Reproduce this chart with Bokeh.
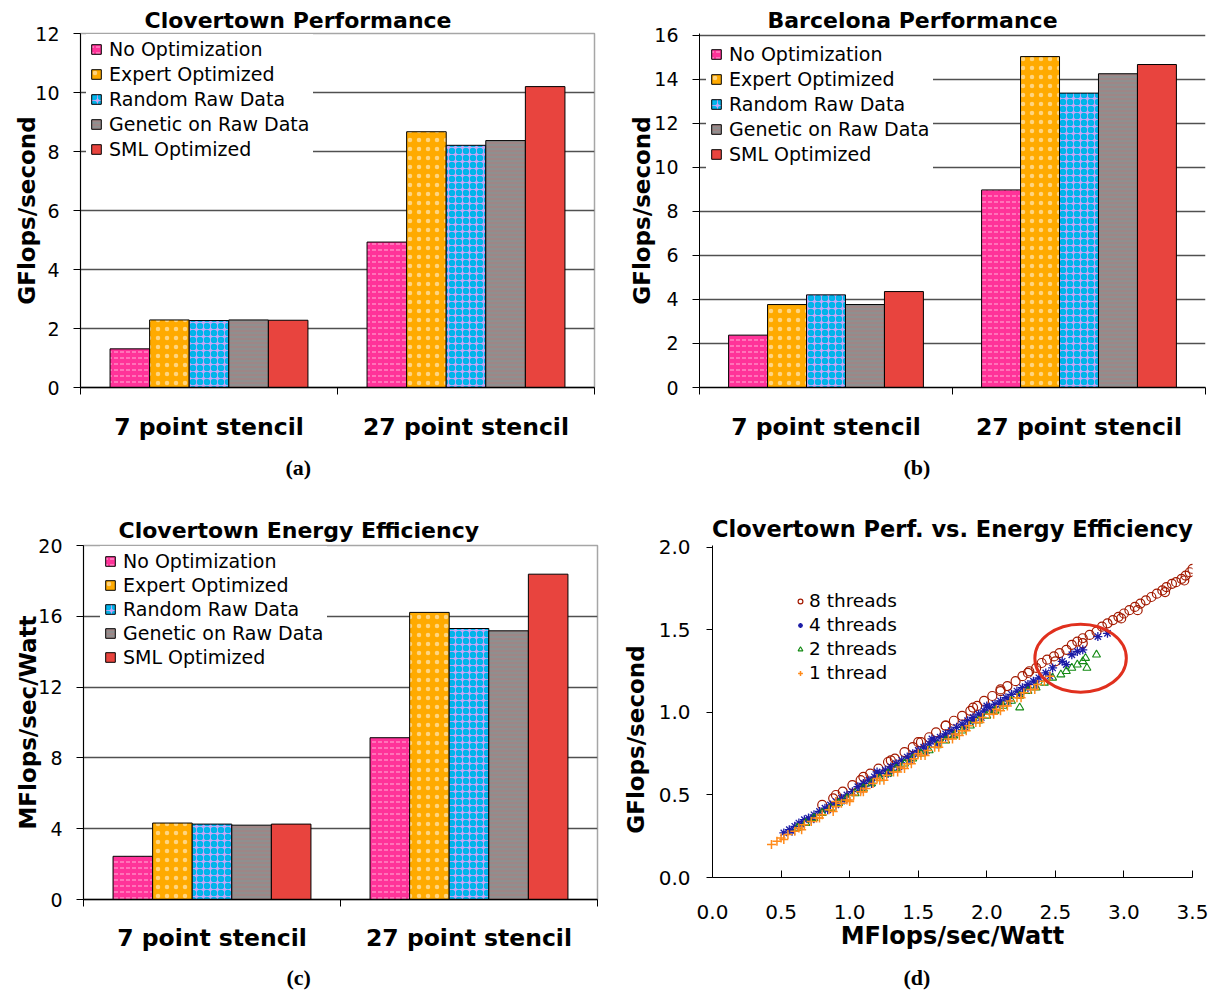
from bokeh.plotting import figure
from bokeh.models import (FixedTicker, Legend, LegendItem, Title,
                          Range1d, ColumnDataSource, NumeralTickFormatter)
from bokeh.layouts import column, row
from bokeh.embed import file_html
from bokeh.resources import INLINE
from bokeh.transform import dodge

# ---------------- data ----------------
categories = ["7 point stencil", "27 point stencil"]
series = ["No Optimization", "Expert Optimized", "Random Raw Data",
          "Genetic on Raw Data", "SML Optimized"]

# (a) Clovertown performance, GFlops/second
clover_perf_7pt = [1.31, 2.29, 2.27, 2.29, 2.28]
clover_perf_27pt = [4.93, 8.67, 8.21, 8.37, 10.20]
# (b) Barcelona performance, GFlops/second
barca_perf_7pt = [2.38, 3.77, 4.21, 3.77, 4.36]
barca_perf_27pt = [8.98, 15.04, 13.38, 14.26, 14.68]
# (c) Clovertown energy efficiency, MFlops/sec/Watt
clover_eff_7pt = [2.44, 4.32, 4.26, 4.20, 4.26]
clover_eff_27pt = [9.14, 16.22, 15.31, 15.18, 18.38]

# (d) Clovertown perf. vs energy efficiency
thread_labels = ["8 threads", "4 threads", "2 threads", "1 thread"]
eight_x = [0.80, 0.88, 0.95, 1.02, 1.08, 1.15, 1.21, 1.28, 1.33, 1.40, 1.46, 1.52, 1.58, 1.63,
           1.70, 1.76, 1.82, 1.88, 1.93, 1.98, 2.04, 2.10, 2.15, 2.21, 2.26, 2.31, 2.36, 2.40,
           2.44, 2.49, 2.53, 2.58, 2.62, 2.66, 2.70, 2.75, 2.80, 2.84, 2.88, 2.92, 2.96, 3.00,
           3.04, 3.08, 3.12, 3.16, 3.20, 3.24, 3.28, 3.31, 3.35, 3.38, 3.42, 3.45, 3.48, 3.50,
           2.98, 3.10, 3.30, 3.44, 2.70, 2.50,
           0.90, 1.10, 1.30, 1.50, 1.70, 1.90, 2.10, 2.30]
eight_y = [0.44, 0.48, 0.52, 0.56, 0.59, 0.63, 0.66, 0.70, 0.72, 0.76, 0.79, 0.82, 0.85, 0.88,
           0.92, 0.95, 0.98, 1.01, 1.04, 1.07, 1.10, 1.13, 1.16, 1.19, 1.22, 1.25, 1.27, 1.30,
           1.32, 1.34, 1.36, 1.38, 1.41, 1.43, 1.45, 1.47, 1.49, 1.52, 1.54, 1.56, 1.58, 1.60,
           1.62, 1.64, 1.66, 1.68, 1.70, 1.72, 1.74, 1.76, 1.78, 1.79, 1.81, 1.83, 1.85, 1.87,
           1.57, 1.62, 1.73, 1.80, 1.42, 1.31,
           0.50, 0.61, 0.71, 0.82, 0.92, 1.03, 1.14, 1.24]
four_x = [0.52, 0.56, 0.60, 0.63, 0.67, 0.70, 0.74, 0.78, 0.82, 0.86, 0.90, 0.94, 0.98, 1.02,
          1.06, 1.10, 1.14, 1.18, 1.22, 1.26, 1.30, 1.34, 1.38, 1.42, 1.46, 1.50, 1.54, 1.58,
          1.62, 1.66, 1.70, 1.74, 1.78, 1.82, 1.86, 1.90, 1.94, 1.98, 2.02, 2.06, 2.10, 2.14,
          2.18, 2.22, 2.26, 2.30, 2.34, 2.38, 2.43, 2.48, 2.55, 2.62, 2.66, 2.81, 2.88,
          0.65, 0.90, 1.10, 1.30, 1.50, 1.70, 1.90, 2.10, 2.30, 1.20, 1.60, 2.00,
          0.58, 0.72, 0.84, 0.96, 1.08, 1.16, 1.28, 1.36, 1.44, 1.56, 1.64, 1.76, 1.84,
          1.96, 2.04, 2.16, 2.24, 2.36, 2.46, 2.58, 2.70]
four_y = [0.27, 0.29, 0.31, 0.33, 0.35, 0.36, 0.38, 0.40, 0.42, 0.44, 0.46, 0.48, 0.50, 0.52,
          0.55, 0.57, 0.59, 0.61, 0.63, 0.65, 0.67, 0.69, 0.71, 0.73, 0.75, 0.77, 0.79, 0.81,
          0.83, 0.85, 0.87, 0.89, 0.91, 0.93, 0.95, 0.97, 0.99, 1.01, 1.03, 1.05, 1.07, 1.09,
          1.11, 1.13, 1.15, 1.17, 1.19, 1.21, 1.24, 1.27, 1.31, 1.35, 1.37, 1.46, 1.48,
          0.32, 0.44, 0.55, 0.65, 0.75, 0.85, 0.95, 1.05, 1.15, 0.64, 0.84, 1.04,
          0.28, 0.35, 0.41, 0.47, 0.53, 0.57, 0.63, 0.67, 0.71, 0.77, 0.81, 0.87, 0.91,
          0.97, 1.01, 1.07, 1.11, 1.17, 1.22, 1.29, 1.38]
two_x = [0.62, 0.68, 0.74, 0.80, 0.86, 0.92, 0.98, 1.04, 1.10, 1.16, 1.22, 1.28, 1.34, 1.40,
         1.46, 1.52, 1.58, 1.64, 1.70, 1.76, 1.82, 1.88, 1.94, 2.00, 2.06, 2.12, 2.18, 2.24,
         2.24, 2.30, 2.36, 2.42, 2.48, 2.54, 2.58, 2.62, 2.66, 2.70, 2.72, 2.73, 2.80]
two_y = [0.30, 0.33, 0.36, 0.39, 0.42, 0.45, 0.48, 0.51, 0.54, 0.57, 0.60, 0.63, 0.66, 0.69,
         0.72, 0.75, 0.77, 0.80, 0.83, 0.86, 0.89, 0.92, 0.95, 0.98, 1.01, 1.04, 1.07, 1.03,
         1.10, 1.13, 1.15, 1.18, 1.21, 1.23, 1.25, 1.27, 1.29, 1.31, 1.33, 1.27, 1.35]
one_x = [0.43, 0.47, 0.50, 0.55, 0.60, 0.63, 0.67, 0.72, 0.76, 0.80, 0.85, 0.90, 0.94, 0.98,
         1.03, 1.08, 1.12, 1.17, 1.22, 1.27, 1.32, 1.37, 1.42, 1.47, 1.52, 1.57, 1.62, 1.67,
         1.72, 1.77, 1.82, 1.87, 1.92, 1.97, 2.02, 2.07, 2.12, 2.17, 2.22, 2.27, 2.32, 2.37,
         2.42, 2.46, 0.90, 1.20, 1.50, 1.80, 2.10, 1.00, 1.40,
         0.52, 0.65, 0.78, 0.88, 1.00, 1.10, 1.25, 1.35, 1.45, 1.55, 1.65, 1.75, 1.85,
         1.95, 2.05, 2.15, 2.25, 2.35]
one_y = [0.20, 0.22, 0.24, 0.26, 0.28, 0.30, 0.32, 0.34, 0.36, 0.38, 0.41, 0.43, 0.45, 0.47,
         0.50, 0.52, 0.54, 0.57, 0.59, 0.62, 0.64, 0.67, 0.69, 0.72, 0.74, 0.77, 0.79, 0.82,
         0.84, 0.87, 0.89, 0.92, 0.94, 0.97, 0.99, 1.02, 1.04, 1.07, 1.09, 1.12, 1.14, 1.17,
         1.19, 1.22, 0.46, 0.60, 0.75, 0.86, 1.01, 0.46, 0.66,
         0.23, 0.29, 0.36, 0.40, 0.47, 0.52, 0.59, 0.64, 0.69, 0.74, 0.79, 0.84, 0.89,
         0.94, 0.99, 1.04, 1.09, 1.14]
highlight_x = [2.684]
highlight_y = [1.329]
highlight_w = [0.667]
highlight_h = [0.412]
scatter_ticks_x = [0.0, 0.5, 1.0, 1.5, 2.0, 2.5, 3.0, 3.5]
scatter_ticks_y = [0.0, 0.5, 1.0, 1.5, 2.0]

# ---------------- styles ----------------
FONT = "DejaVu Sans"
SERIF = "Liberation Serif"
BAR_W = 0.154
BAR_STYLES = [
    dict(fill_color="#ff3399", hatch_pattern="horizontal_dash", hatch_color="#ffb3d9",
         hatch_scale=6, hatch_weight=1),
    dict(fill_color="#ffaa00", hatch_pattern="dot", hatch_color="white",
         hatch_scale=9, hatch_alpha=0.5),
    dict(fill_color="#c7a6f6", hatch_pattern="ring", hatch_color="#00b4ea",
         hatch_scale=7, hatch_weight=3),
    dict(fill_color="#8f8f8f", hatch_pattern="horizontal_line", hatch_color="#c07070",
         hatch_scale=4, hatch_weight=1, hatch_alpha=0.6),
    dict(fill_color="#e8443e"),
]


def bar_panel(title, title_offset, title_standoff, vals_a, vals_b, y_max, y_end, y_step,
              y_label, caption, caption_offset, cap_standoff, b_left, f_width, b_right,
              b_top, b_bottom, legend_loc, legend_spacing, ylabel_standoff, cat_standoff,
              outline):
    p = figure(frame_width=f_width, frame_height=354,
               min_border_left=b_left, min_border_right=b_right,
               min_border_top=b_top, min_border_bottom=b_bottom,
               x_range=Range1d(0, len(categories)), y_range=Range1d(0, y_end),
               output_backend="svg", toolbar_location=None,
               background_fill_color="white", border_fill_color="white",
               outline_line_color=outline, outline_line_width=1.5)
    centers = [k + 0.5 for k in range(len(categories))]
    renderers = []
    for i, s in enumerate(series):
        src = ColumnDataSource(dict(x=centers, top=[vals_a[i], vals_b[i]]))
        r = p.vbar(x=dodge("x", (i - 2) * BAR_W, range=p.x_range), top="top",
                   width=BAR_W, source=src, line_color="black", line_width=1,
                   **BAR_STYLES[i])
        renderers.append(r)

    xa = p.xaxis[0]
    xa.ticker = FixedTicker(ticks=centers, minor_ticks=list(range(len(categories) + 1)))
    xa.major_label_overrides = {c: cat for c, cat in zip(centers, categories)}
    xa.major_tick_out = 0
    xa.major_tick_in = 0
    xa.minor_tick_out = 7
    xa.minor_tick_in = 0
    xa.minor_tick_line_color = "black"
    xa.axis_line_color = "black"
    xa.axis_line_width = 1.5
    xa.major_label_text_font = FONT
    xa.major_label_text_font_size = "23.5px"
    xa.major_label_text_font_style = "bold"
    xa.major_label_text_color = "black"
    xa.major_label_standoff = cat_standoff
    p.xgrid.visible = False

    ya = p.yaxis[0]
    yt = FixedTicker(ticks=list(range(0, y_max + 1, y_step)), minor_ticks=[])
    ya.ticker = yt
    ya.major_tick_out = 7
    ya.major_tick_in = 0
    ya.major_tick_line_color = "black"
    ya.axis_line_color = "black"
    ya.major_label_text_font = FONT
    ya.major_label_text_font_size = "19px"
    ya.major_label_text_color = "black"
    ya.major_label_standoff = 14
    ya.axis_label = y_label
    ya.axis_label_text_font = FONT
    ya.axis_label_text_font_size = "23px"
    ya.axis_label_text_font_style = "bold"
    ya.axis_label_text_color = "black"
    ya.axis_label_standoff = ylabel_standoff
    p.ygrid.ticker = yt
    p.ygrid.grid_line_color = "#505050"
    p.ygrid.grid_line_width = 1.5

    legend = Legend(items=[LegendItem(label=s, renderers=[r]) for s, r in zip(series, renderers)],
                    location=legend_loc, label_text_font=FONT, label_text_font_size="19px",
                    label_text_color="black", glyph_width=12, glyph_height=12,
                    label_standoff=7, label_height=20, spacing=legend_spacing, padding=4,
                    margin=0, border_line_alpha=0, background_fill_color="white",
                    background_fill_alpha=1)
    p.add_layout(legend)

    p.title.text = title
    p.title.text_font = FONT
    p.title.text_font_size = "22px"
    p.title.text_font_style = "bold"
    p.title.text_color = "black"
    p.title.align = "left"
    p.title.offset = title_offset
    p.title.standoff = title_standoff

    cap = Title(text=caption, align="left", offset=caption_offset, text_font=SERIF,
                text_font_size="22px", text_font_style="bold", text_color="black",
                standoff=cap_standoff)
    p.add_layout(cap, "below")
    return p


pa = bar_panel("Clovertown Performance", 64, 2, clover_perf_7pt, clover_perf_27pt, 12, 12, 2,
               "GFlops/second", "(a)", 205, 18,
               80, 514, 10, 33, 117, (6, 223), 3, -8, 18, "#a6a6a6")
pb = bar_panel("Barcelona Performance", 68, 2, barca_perf_7pt, barca_perf_27pt, 16, 16.09, 2,
               "GFlops/second", "(b)", 204, 18,
               95, 506, 4, 33, 117, (7, 218), 3, -4, 18, None)
pc = bar_panel("Clovertown Energy Efficiency", 35, 6, clover_eff_7pt, clover_eff_27pt, 20, 20, 4,
               "MFlops/sec/Watt", "(c)", 203, 16,
               83, 514, 7, 41, 95, (17, 227), 2, -6, 17, "#a6a6a6")

# ---------------- (d) scatter ----------------
pd = figure(frame_width=480, frame_height=332, min_border_left=108, min_border_right=17,
            min_border_top=41, min_border_bottom=117,
            x_range=Range1d(0, 3.5), y_range=Range1d(0, 2.012),
            output_backend="svg", toolbar_location=None,
            background_fill_color="white", border_fill_color="white",
            outline_line_color=None)
pd.xgrid.visible = False
pd.ygrid.visible = False

r8 = pd.scatter(eight_x, eight_y, marker="circle", size=9, fill_alpha=0,
                line_color="#a31a00", line_width=1.2)
r4 = pd.scatter(four_x, four_y, marker="asterisk", size=9,
                line_color="#1c1ca6", line_width=1.3)
r2 = pd.scatter(two_x, two_y, marker="triangle", size=8, fill_alpha=0,
                line_color="#138a13", line_width=1.1)
r1 = pd.scatter(one_x, one_y, marker="cross", size=9,
                line_color="#ff8a1a", line_width=1.5)
pd.ellipse(x=highlight_x, y=highlight_y, width=highlight_w, height=highlight_h,
           fill_alpha=0, line_color="#e0301e", line_width=3)

dx = pd.xaxis[0]
dx.ticker = FixedTicker(ticks=scatter_ticks_x, minor_ticks=[])
dx.formatter = NumeralTickFormatter(format="0.0")
dx.major_tick_in = 7
dx.major_tick_out = 0
dx.major_tick_line_color = "black"
dx.axis_line_color = "black"
dx.major_label_text_font = FONT
dx.major_label_text_font_size = "20px"
dx.major_label_text_color = "black"
dx.major_label_standoff = 27
dx.axis_label = "MFlops/sec/Watt"
dx.axis_label_text_font = FONT
dx.axis_label_text_font_size = "24px"
dx.axis_label_text_font_style = "bold"
dx.axis_label_text_color = "black"
dx.axis_label_standoff = 0

dy = pd.yaxis[0]
dy.ticker = FixedTicker(ticks=scatter_ticks_y, minor_ticks=[])
dy.formatter = NumeralTickFormatter(format="0.0")
dy.major_tick_out = 6
dy.major_tick_in = 0
dy.major_tick_line_color = "black"
dy.axis_line_color = "black"
dy.major_label_text_font = FONT
dy.major_label_text_font_size = "20px"
dy.major_label_text_color = "black"
dy.major_label_standoff = 16
dy.axis_label = "GFlops/second" + "\u00a0" * 7
dy.axis_label_text_font = FONT
dy.axis_label_text_font_size = "23px"
dy.axis_label_text_font_style = "bold"
dy.axis_label_text_color = "black"
dy.axis_label_standoff = 7

dleg = Legend(items=[LegendItem(label=l, renderers=[r]) for l, r in
                     zip(thread_labels, [r8, r4, r2, r1])],
              location=(78, 190), label_text_font=FONT, label_text_font_size="18.5px",
              label_text_color="black", glyph_width=12, glyph_height=12,
              label_standoff=3, label_height=20, spacing=3, padding=4, margin=0,
              border_line_alpha=0, background_fill_alpha=0)
pd.add_layout(dleg)

pd.title.text = "Clovertown Perf. vs. Energy Efficiency"
pd.title.text_font = FONT
pd.title.text_font_size = "22.5px"
pd.title.text_font_style = "bold"
pd.title.text_color = "black"
pd.title.align = "center"
pd.title.standoff = 8

dcap = Title(text="(d)", align="left", offset=191, text_font=SERIF,
             text_font_size="22px", text_font_style="bold", text_color="black",
             standoff=20)
pd.add_layout(dcap, "below")

layout = column(row(pa, pb), row(pc, pd))
open("out.html", "w").write(file_html(layout, INLINE))
